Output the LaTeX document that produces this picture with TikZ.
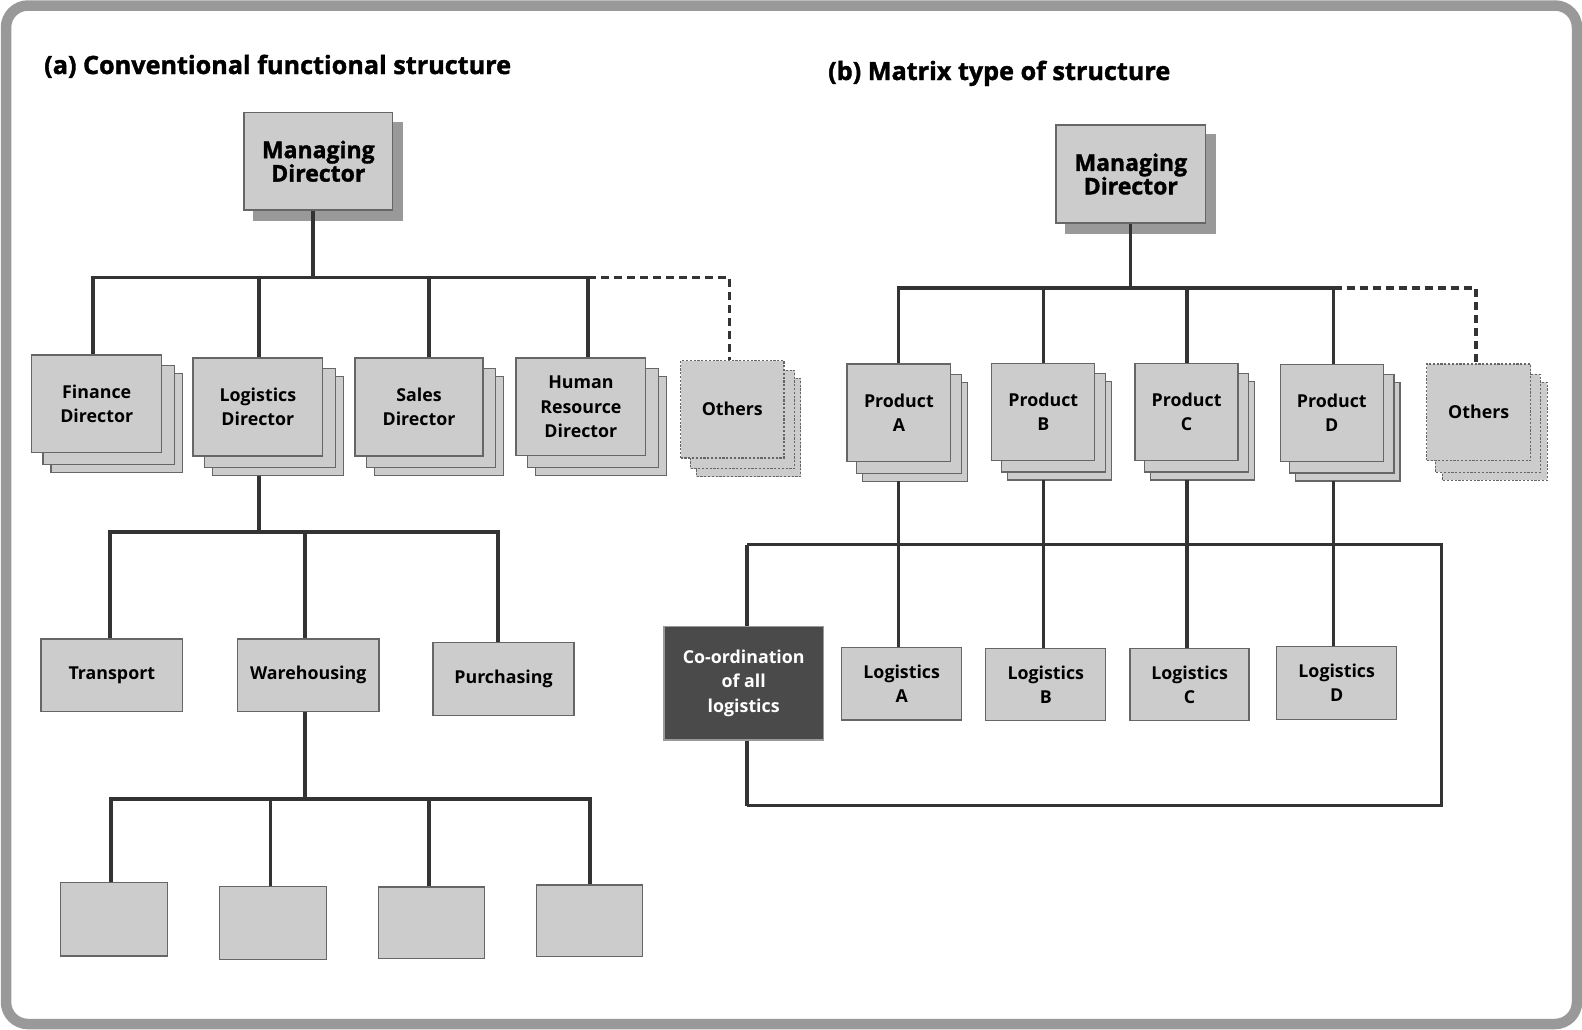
\documentclass[tikz,border=0pt]{standalone}
\usepackage{fontspec}
\setmainfont{Open Sans}[BoldFeatures={FakeBold=1.5}]
\newfontfamily\lblfont{Open Sans}
\usetikzlibrary{calc,backgrounds}

\definecolor{boxfill}{HTML}{CCCCCC}
\definecolor{boxline}{HTML}{666666}
\definecolor{conncol}{HTML}{333333}
\definecolor{shadowcol}{HTML}{999999}
\definecolor{framecol}{HTML}{999999}
\definecolor{darkfill}{HTML}{4A4A4A}

\tikzset{
  box/.style={rectangle, draw=boxline, fill=boxfill, line width=1.3pt,
    inner sep=0pt, align=center,
    font=\lblfont\bfseries\fontsize{17.8}{24.3}\selectfont},
  bigbox/.style={box, font=\bfseries\fontsize{23}{23.5}\selectfont},
  dotbox/.style={box, dash pattern=on 2.2pt off 1.6pt, line width=1.1pt},
  layer/.style={draw=boxline, fill=boxfill, line width=1.3pt},
  dotlayer/.style={layer, dash pattern=on 2.2pt off 1.6pt, line width=1.1pt},
  conn/.style={draw=conncol, line width=3.3pt},
  dashconn/.style={conn, dash pattern=on 8pt off 5pt},
  heading/.style={anchor=base west, inner sep=0pt,
    font=\bfseries\fontsize{25.2}{25}\selectfont},
}

% two stacked copies behind a node: offsets (#2,#3) and (#4,#5), style #6
\newcommand{\backlayers}[6]{%
  \begin{scope}[on background layer]
    \path[#6] ($(#1.north west)+(#4,#5)$) rectangle ($(#1.south east)+(#4,#5)$);
    \path[#6] ($(#1.north west)+(#2,#3)$) rectangle ($(#1.south east)+(#2,#3)$);
  \end{scope}}

% solid drop shadow behind a node
\newcommand{\dropshadow}[1]{%
  \begin{scope}[on background layer]
    \fill[shadowcol] ($(#1.north west)+(10,10)$) rectangle ($(#1.south east)+(10,10)$);
  \end{scope}}

\begin{document}
\begin{tikzpicture}[x=1pt,y=-1pt]
\useasboundingbox (0,0) rectangle (1582,1029);
\begin{scope}[on background layer]
  \fill[white] (0,0) rectangle (1582,1029);
\end{scope}
\draw[framecol, line width=10.5pt, rounded corners=22pt] (6,5.5) rectangle (1577,1024);

% ---------------- (a) conventional functional structure ----------------
\node[heading] (ta) at (44,74) {(a) Conventional functional structure};

\node[bigbox, minimum width=148.7pt, minimum height=97.7pt] (mdA) at (318.3,161.2) {Managing\\Director};
\dropshadow{mdA}

\node[box, minimum width=130pt, minimum height=97.7pt] (fin) at (96.7,403.9) {Finance\\Director};
\node[box, minimum width=129.7pt, minimum height=98pt] (logd) at (257.9,407) {Logistics\\Director};
\node[box, minimum width=128pt, minimum height=98pt] (sales) at (419,407) {Sales\\Director};
\node[box, minimum width=129.7pt, minimum height=97.7pt] (hr) at (580.9,406.9) {Human\\Resource\\Director};
\node[dotbox, minimum width=103.3pt, minimum height=97.3pt] (othA) at (732.3,409.3) {Others};
\foreach \n in {fin,logd,sales,hr}{\backlayers{\n}{12}{11}{20}{19}{layer}}
\backlayers{othA}{10}{10}{16}{18}{dotlayer}

\node[box, minimum width=141.7pt, minimum height=72.7pt] (trans) at (111.8,675.3) {Transport};
\node[box, minimum width=141.7pt, minimum height=72.7pt] (ware) at (308.2,675.3) {Warehousing};
\node[box, minimum width=141.2pt, minimum height=72.7pt] (purch) at (503.5,679) {Purchasing};

\node[box, minimum width=107pt, minimum height=73.3pt] (u1) at (114.2,919.3) {};
\node[box, minimum width=107.4pt, minimum height=72.6pt] (u2) at (273,923) {};
\node[box, minimum width=106pt, minimum height=71.6pt] (u3) at (431.3,922.8) {};
\node[box, minimum width=106pt, minimum height=71.6pt] (u4) at (589.8,920.7) {};

% top bus
\coordinate (ja) at (313,277.5);
\coordinate (ja1) at (93,277.5);
\coordinate (ja2) at (259,277.5);
\coordinate (ja3) at (429,277.5);
\coordinate (ja4) at (588,277.5);
\coordinate (ja5) at (729.5,277.5);
\draw[conn] (ja |- mdA.south) -- (ja);
\draw[conn] (ja1 |- fin.north) -- (ja1) -- (ja4) -- (ja4 |- hr.north);
\draw[conn] (ja2) -- (ja2 |- logd.north);
\draw[conn] (ja3) -- (ja3 |- sales.north);
\draw[dashconn] (ja4) -- (ja5) -- (ja5 |- othA.north);

% logistics sub-functions
\coordinate (jb) at (259,532);
\coordinate (jb1) at (110,532);
\coordinate (jb2) at (305,532);
\coordinate (jb3) at (498,532);
\draw[conn] ($(jb |- logd.south)+(0,19)$) -- (jb);
\draw[conn] (jb1 |- trans.north) -- (jb1) -- (jb3) -- (jb3 |- purch.north);
\draw[conn] (jb2) -- (jb2 |- ware.north);

% warehousing sub-units
\coordinate (jc) at (305,799);
\coordinate (jc1) at (111,799);
\coordinate (jc2) at (270.5,799);
\coordinate (jc3) at (429,799);
\coordinate (jc4) at (590,799);
\draw[conn] (jc |- ware.south) -- (jc);
\draw[conn] (jc1 |- u1.north) -- (jc1) -- (jc4) -- (jc4 |- u4.north);
\draw[conn] (jc2) -- (jc2 |- u2.north);
\draw[conn] (jc3) -- (jc3 |- u3.north);

% ---------------- (b) matrix type of structure ----------------
\node[heading] (tb) at (828,80) {(b) Matrix type of structure};

\node[bigbox, minimum width=149.7pt, minimum height=98pt] (mdB) at (1130.8,174) {Managing\\Director};
\dropshadow{mdB}

\node[box, minimum width=103.7pt, minimum height=97.7pt] (pA) at (898.9,412.9) {Product\\A};
\node[box, minimum width=103pt, minimum height=97pt] (pB) at (1043.3,411.7) {Product\\B};
\node[box, minimum width=103pt, minimum height=97pt] (pC) at (1186.6,411.7) {Product\\C};
\node[box, minimum width=103pt, minimum height=97pt] (pD) at (1331.8,412.7) {Product\\D};
\node[dotbox, minimum width=104pt, minimum height=96.7pt] (othB) at (1478.7,412.3) {Others};
\foreach \n in {pA,pB,pC,pD}{\backlayers{\n}{10}{11}{16}{19}{layer}}
\backlayers{othB}{9}{11}{16}{19}{dotlayer}

% matrix frame around the logistics units
\coordinate (mtl) at (747,544.5);
\coordinate (mtr) at (1441.5,544.5);
\coordinate (mbr) at (1441.5,805.5);
\coordinate (mbl) at (747,805.5);
\draw[conn] (mtl) -- (mtr) -- (mbr) -- (mbl);

\node[box, minimum width=120pt, minimum height=72.7pt] (lA) at (901.7,683.7) {Logistics\\A};
\node[box, minimum width=120pt, minimum height=71.6pt] (lB) at (1045.8,684.6) {Logistics\\B};
\node[box, minimum width=119pt, minimum height=71.6pt] (lC) at (1189.6,684.6) {Logistics\\C};
\node[box, minimum width=120pt, minimum height=72.6pt] (lD) at (1336.7,683) {Logistics\\D};

\node[box, draw=shadowcol, fill=darkfill, text=white, minimum width=159.3pt, minimum height=113.3pt]
  (coord) at (743.7,683.3) {Co-ordination\\of all\\logistics};
\draw[conn] (mtl) -- (mtl |- coord.north);
\draw[conn] (mbl |- coord.south) -- (mbl);

% product bus
\coordinate (jd) at (1130.5,288);
\coordinate (jd1) at (898.3,288);
\coordinate (jd2) at (1043.3,288);
\coordinate (jd3) at (1187,288);
\coordinate (jd4) at (1333.5,288);
\coordinate (jd5) at (1476,288);
\draw[conn] (jd |- mdB.south) -- (jd);
\draw[conn] (jd1 |- pA.north) -- (jd1) -- (jd4) -- (jd4 |- pD.north);
\draw[conn] (jd2) -- (jd2 |- pB.north);
\draw[conn] (jd3) -- (jd3 |- pC.north);
\draw[dashconn] (jd4) -- (jd5) -- (jd5 |- othB.north);

% product lines down to their logistics units
\draw[conn] ($(jd1 |- pA.south)+(0,19)$) -- (jd1 |- lA.north);
\draw[conn] ($(jd2 |- pB.south)+(0,19)$) -- (jd2 |- lB.north);
\draw[conn] ($(jd3 |- pC.south)+(0,19)$) -- (jd3 |- lC.north);
\draw[conn] ($(jd4 |- pD.south)+(0,19)$) -- (jd4 |- lD.north);
\end{tikzpicture}
\end{document}
